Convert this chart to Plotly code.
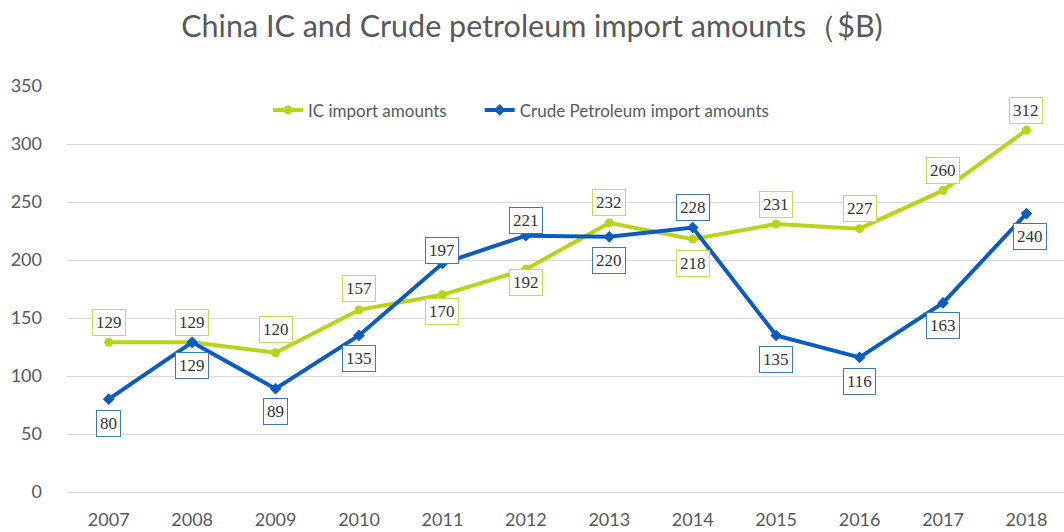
import plotly.graph_objects as go

years = ["2007", "2008", "2009", "2010", "2011", "2012", "2013", "2014", "2015", "2016", "2017", "2018"]
ic_values = [129, 129, 120, 157, 170, 192, 232, 218, 231, 227, 260, 312]
crude_values = [80, 129, 89, 135, 197, 221, 220, 228, 135, 116, 163, 240]
y_ticks = [0, 50, 100, 150, 200, 250, 300, 350]

# label pixel offsets (style only)
ic_label_shift = [20, 20, 23, 21, -17, -13, 20, -24, 20, 20, 20, 20]
crude_label_shift = [-24, -23, -23, -23, 13, 15, -24, 20, -24, -24, -23, -23]

IC_COLOR = "#b9d31a"
CRUDE_COLOR = "#0a5cbf"
IC_BORDER = "#c9d84e"
CRUDE_BORDER = "#3d78b8"
LABEL_FONT = dict(family="Liberation Serif, Times New Roman, serif", size=17, color="#333333")

fig = go.Figure()
fig.add_trace(go.Scatter(
    x=years, y=ic_values, mode="lines+markers", name="IC import amounts",
    line=dict(color=IC_COLOR, width=4),
    marker=dict(symbol="circle", size=9, color=IC_COLOR),
    legend="legend",
))
fig.add_trace(go.Scatter(
    x=years, y=crude_values, mode="lines+markers", name="Crude Petroleum import amounts",
    line=dict(color=CRUDE_COLOR, width=4),
    marker=dict(symbol="diamond", size=9, color=CRUDE_COLOR),
    legend="legend2",
))

for i, (v, s) in enumerate(zip(ic_values, ic_label_shift)):
    fig.add_annotation(x=i, y=v, xref="x", yref="y", text=str(v), showarrow=False, yshift=s,
                       font=LABEL_FONT, bordercolor=IC_BORDER, borderwidth=1, borderpad=3,
                       bgcolor="white")
for i, (v, s) in enumerate(zip(crude_values, crude_label_shift)):
    fig.add_annotation(x=i, y=v, xref="x", yref="y", text=str(v), showarrow=False, yshift=s,
                       xshift=4 if i == len(crude_values) - 1 else 0,
                       font=LABEL_FONT, bordercolor=CRUDE_BORDER, borderwidth=1, borderpad=3,
                       bgcolor="white")

legend_common = dict(orientation="h", yanchor="middle", y=0.94, xanchor="left",
                     font=dict(family="Lato, Open Sans, sans-serif", size=17, color="#595959"),
                     bgcolor="rgba(0,0,0,0)", itemwidth=30)

fig.update_layout(
    width=1064, height=532,
    paper_bgcolor="white", plot_bgcolor="white",
    margin=dict(l=67, r=0, t=86, b=40),
    title=dict(text="China IC and Crude petroleum import amounts（$B)",
               x=0.5, xanchor="center", y=0.95, yanchor="middle",
               font=dict(family="Lato, Open Sans, sans-serif", size=30.5, color="#595959")),
    font=dict(family="Lato, Open Sans, sans-serif", color="#595959"),
    showlegend=True,
    legend=dict(x=0.2016, **legend_common),
    legend2=dict(x=0.414, **legend_common),
    xaxis=dict(type="category", range=[-0.5, 11.45], showgrid=False, showline=False, ticks="",
               automargin=False, ticklabelstandoff=15,
               tickfont=dict(size=18, color="#595959")),
    yaxis=dict(range=[0, 350], tickvals=y_ticks, showgrid=True, gridcolor="#d9d9d9", gridwidth=1,
               zeroline=True, zerolinecolor="#d9d9d9", zerolinewidth=1,
               showline=False, ticks="", ticklabelstandoff=24, automargin=False,
               tickfont=dict(size=18, color="#595959")),
)

fig.write_html("out.html", config={"displayModeBar": False},
               post_script="document.body.style.margin='0';document.body.style.overflow='hidden';")
